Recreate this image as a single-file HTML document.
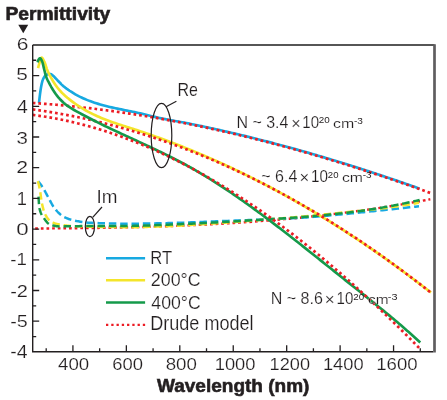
<!DOCTYPE html>
<html><head><meta charset="utf-8"><style>
html,body{margin:0;padding:0;background:#fff;width:447px;height:400px;overflow:hidden}
svg{display:block;will-change:transform}
text{font-family:"Liberation Sans",sans-serif}
</style></head><body>
<svg width="447" height="400" viewBox="0 0 447 400">
<rect width="447" height="400" fill="#fff"/>
<path d="M32.70,228.51 L37.73,228.49 L42.77,228.47 L47.80,228.44 L52.83,228.41 L57.86,228.37 L62.90,228.33 L67.93,228.29 L72.96,228.24 L78.00,228.19 L83.03,228.13 L88.06,228.07 L93.09,228.00 L98.13,227.93 L103.16,227.84 L108.19,227.76 L113.23,227.67 L118.26,227.57 L123.29,227.46 L128.33,227.35 L133.36,227.23 L138.39,227.10 L143.42,226.97 L148.46,226.82 L153.49,226.67 L158.52,226.51 L163.56,226.34 L168.59,226.17 L173.62,225.98 L178.65,225.78 L183.69,225.58 L188.72,225.37 L193.75,225.14 L198.79,224.91 L203.82,224.66 L208.85,224.41 L213.88,224.14 L218.92,223.86 L223.95,223.58 L228.98,223.28 L234.02,222.96 L239.05,222.64 L244.08,222.30 L249.12,221.96 L254.15,221.60 L259.18,221.22 L264.21,220.84 L269.25,220.44 L274.28,220.02 L279.31,219.60 L284.35,219.15 L289.38,218.70 L294.41,218.23 L299.44,217.75 L304.48,217.25 L309.51,216.73 L314.54,216.20 L319.58,215.66 L324.61,215.10 L329.64,214.52 L334.67,213.93 L339.71,213.32 L344.74,212.69 L349.77,212.05 L354.81,211.39 L359.84,210.71 L364.87,210.02 L369.91,209.31 L374.94,208.58 L379.97,207.83 L385.00,207.06 L390.04,206.28 L395.07,205.47 L400.10,204.65 L405.14,203.80 L410.17,202.94 L415.20,202.06 L420.23,201.16 L425.27,200.23 L430.30,199.29" fill="none" stroke="#ec1c24" stroke-width="2.4" stroke-dasharray="2.7 2.94" stroke-dashoffset="-2.5"/>
<path d="M419.00,206.25 L417.09,206.46 L415.17,206.67 L413.26,206.88 L411.35,207.08 L409.43,207.29 L407.52,207.50 L405.61,207.70 L403.69,207.91 L401.78,208.12 L399.86,208.32 L397.95,208.52 L396.04,208.73 L394.12,208.93 L392.21,209.14 L390.30,209.34 L388.38,209.54 L386.47,209.74 L384.56,209.94 L382.64,210.14 L380.73,210.34 L378.82,210.55 L376.90,210.75 L374.99,210.95 L373.07,211.16 L371.16,211.36 L369.25,211.56 L367.33,211.76 L365.42,211.97 L363.51,212.17 L361.59,212.37 L359.68,212.57 L357.77,212.76 L355.85,212.96 L353.94,213.15 L352.03,213.35 L350.11,213.54 L348.20,213.72 L346.28,213.91 L344.37,214.09 L342.46,214.27 L340.54,214.45 L338.63,214.63 L336.72,214.80 L334.80,214.98 L332.89,215.15 L330.98,215.33 L329.06,215.51 L327.15,215.68 L325.24,215.85 L323.32,216.02 L321.41,216.19 L319.49,216.36 L317.58,216.52 L315.67,216.68 L313.75,216.84 L311.84,216.99 L309.93,217.13 L308.01,217.27 L306.10,217.41 L304.19,217.54 L302.27,217.66 L300.36,217.78 L298.45,217.89 L296.53,218.00 L294.62,218.10 L292.70,218.20 L290.79,218.29 L288.88,218.38 L286.96,218.47 L285.05,218.56 L283.14,218.64 L281.22,218.73 L279.31,218.81 L277.40,218.89 L275.48,218.97 L273.57,219.05 L271.66,219.12 L269.74,219.20 L267.83,219.28 L265.91,219.36 L264.00,219.43 L262.09,219.51 L260.17,219.59 L258.26,219.67 L256.35,219.75 L254.43,219.83 L252.52,219.91 L250.61,219.99 L248.69,220.07 L246.78,220.15 L244.87,220.23 L242.95,220.31 L241.04,220.38 L239.12,220.46 L237.21,220.54 L235.30,220.61 L233.38,220.69 L231.47,220.76 L229.56,220.84 L227.64,220.91 L225.73,220.98 L223.82,221.06 L221.90,221.13 L219.99,221.20 L218.08,221.27 L216.16,221.35 L214.25,221.42 L212.33,221.50 L210.42,221.57 L208.51,221.65 L206.59,221.73 L204.68,221.81 L202.77,221.88 L200.85,221.96 L198.94,222.04 L197.03,222.12 L195.11,222.19 L193.20,222.27 L191.29,222.34 L189.37,222.42 L187.46,222.49 L185.54,222.56 L183.63,222.63 L181.72,222.70 L179.80,222.77 L177.89,222.83 L175.98,222.89 L174.06,222.95 L172.15,223.01 L170.24,223.06 L168.32,223.11 L166.41,223.16 L164.50,223.21 L162.58,223.25 L160.67,223.29 L158.75,223.32 L156.84,223.36 L154.93,223.39 L153.01,223.43 L151.10,223.47 L149.19,223.50 L147.27,223.53 L145.36,223.56 L143.45,223.59 L141.53,223.62 L139.62,223.64 L137.71,223.66 L135.79,223.68 L133.88,223.69 L131.96,223.70 L130.05,223.70 L128.14,223.70 L126.22,223.69 L124.31,223.68 L122.40,223.66 L120.48,223.64 L118.57,223.62 L116.66,223.59 L114.74,223.56 L112.83,223.52 L110.92,223.48 L109.00,223.43 L107.09,223.39 L105.17,223.33 L103.26,223.28 L101.35,223.21 L99.43,223.15 L97.52,223.08 L95.61,223.01 L93.69,222.93 L91.78,222.85 L89.87,222.77 L87.95,222.64 L86.04,222.46 L84.13,222.23 L82.21,221.97 L80.30,221.67 L78.38,221.35 L76.47,221.01 L74.56,220.61 L72.64,220.14 L70.73,219.59 L68.82,218.96 L68.20,218.74 L67.95,218.65 L67.70,218.55 L67.44,218.46 L67.19,218.36 L66.94,218.26 L66.90,218.24 L66.69,218.16 L66.44,218.05 L66.18,217.95 L65.93,217.84 L65.68,217.73 L65.43,217.62 L65.17,217.51 L64.99,217.43 L64.92,217.40 L64.67,217.28 L64.42,217.16 L64.17,217.04 L63.91,216.91 L63.66,216.77 L63.41,216.63 L63.16,216.48 L63.08,216.43 L62.91,216.32 L62.65,216.16 L62.40,215.99 L62.15,215.81 L61.90,215.63 L61.65,215.45 L61.39,215.26 L61.16,215.08 L61.14,215.06 L60.89,214.86 L60.64,214.65 L60.38,214.43 L60.13,214.22 L59.88,213.99 L59.63,213.76 L59.38,213.53 L59.25,213.41 L59.12,213.29 L58.87,213.05 L58.62,212.80 L58.37,212.55 L58.12,212.30 L57.86,212.04 L57.61,211.77 L57.36,211.51 L57.34,211.48 L57.11,211.24 L56.86,210.96 L56.60,210.68 L56.35,210.40 L56.10,210.12 L55.85,209.83 L55.59,209.54 L55.42,209.34 L55.34,209.24 L55.09,208.95 L54.84,208.65 L54.59,208.34 L54.33,208.01 L54.08,207.67 L53.83,207.30 L53.58,206.93 L53.51,206.82 L53.33,206.53 L53.07,206.13 L52.82,205.71 L52.57,205.28 L52.32,204.84 L52.07,204.39 L51.81,203.94 L51.59,203.54 L51.56,203.48 L51.31,203.01 L51.06,202.54 L50.81,202.06 L50.55,201.58 L50.30,201.10 L50.05,200.63 L49.80,200.15 L49.68,199.93 L49.54,199.67 L49.29,199.20 L49.04,198.73 L48.79,198.27 L48.54,197.82 L48.28,197.37 L48.03,196.92 L47.78,196.47 L47.77,196.45 L47.53,196.01 L47.28,195.55 L47.02,195.08 L46.77,194.61 L46.52,194.13 L46.27,193.66 L46.02,193.18 L45.85,192.88 L45.76,192.71 L45.51,192.24 L45.26,191.77 L45.01,191.30 L44.75,190.84 L44.50,190.38 L44.25,189.93 L44.00,189.49 L43.94,189.39 L43.75,189.05 L43.49,188.63 L43.24,188.21 L42.99,187.80 L42.74,187.41 L42.49,187.03 L42.23,186.65 L42.03,186.35 L41.98,186.28 L41.73,185.92 L41.48,185.56 L41.23,185.20 L40.97,184.85 L40.72,184.51 L40.47,184.17 L40.22,183.84 L40.11,183.71 L39.96,183.52 L39.71,183.20 L39.46,182.88 L39.21,182.57 L38.96,182.27 L38.70,181.97 L38.45,181.68 L38.20,181.40" fill="none" stroke="#17a9e1" stroke-width="2.5" stroke-dasharray="7.5 3.83" stroke-dashoffset="2.57"/>
<path d="M419.00,202.75 L417.08,203.09 L415.17,203.43 L413.25,203.76 L411.34,204.09 L409.42,204.41 L407.50,204.73 L405.59,205.05 L403.67,205.36 L401.76,205.66 L399.84,205.96 L397.92,206.26 L396.01,206.55 L394.09,206.83 L392.17,207.10 L390.26,207.37 L388.34,207.63 L386.43,207.89 L384.51,208.14 L382.59,208.38 L380.68,208.61 L378.76,208.84 L376.85,209.06 L374.93,209.27 L373.01,209.49 L371.10,209.69 L369.18,209.90 L367.27,210.10 L365.35,210.29 L363.43,210.49 L361.52,210.68 L359.60,210.87 L357.69,211.06 L355.77,211.24 L353.85,211.43 L351.94,211.62 L350.02,211.80 L348.11,211.99 L346.19,212.18 L344.27,212.37 L342.36,212.56 L340.44,212.76 L338.52,212.95 L336.61,213.15 L334.69,213.35 L332.78,213.54 L330.86,213.74 L328.94,213.94 L327.03,214.14 L325.11,214.34 L323.20,214.54 L321.28,214.74 L319.36,214.93 L317.45,215.13 L315.53,215.32 L313.62,215.51 L311.70,215.70 L309.78,215.89 L307.87,216.07 L305.95,216.25 L304.04,216.43 L302.12,216.61 L300.20,216.78 L298.29,216.95 L296.37,217.12 L294.45,217.28 L292.54,217.44 L290.62,217.60 L288.71,217.76 L286.79,217.92 L284.87,218.07 L282.96,218.22 L281.04,218.38 L279.13,218.53 L277.21,218.68 L275.29,218.82 L273.38,218.97 L271.46,219.12 L269.55,219.27 L267.63,219.41 L265.71,219.56 L263.80,219.71 L261.88,219.85 L259.97,220.00 L258.05,220.15 L256.13,220.30 L254.22,220.45 L252.30,220.60 L250.38,220.75 L248.47,220.90 L246.55,221.05 L244.64,221.20 L242.72,221.35 L240.80,221.49 L238.89,221.64 L236.97,221.79 L235.06,221.93 L233.14,222.07 L231.22,222.21 L229.31,222.35 L227.39,222.49 L225.48,222.63 L223.56,222.76 L221.64,222.89 L219.73,223.02 L217.81,223.15 L215.90,223.27 L213.98,223.40 L212.06,223.53 L210.15,223.66 L208.23,223.80 L206.32,223.93 L204.40,224.06 L202.48,224.19 L200.57,224.32 L198.65,224.44 L196.73,224.57 L194.82,224.70 L192.90,224.82 L190.99,224.95 L189.07,225.07 L187.15,225.18 L185.24,225.30 L183.32,225.41 L181.41,225.52 L179.49,225.63 L177.57,225.74 L175.66,225.84 L173.74,225.93 L171.83,226.03 L169.91,226.12 L167.99,226.20 L166.08,226.28 L164.16,226.35 L162.25,226.42 L160.33,226.49 L158.41,226.55 L156.50,226.61 L154.58,226.68 L152.66,226.74 L150.75,226.80 L148.83,226.86 L146.92,226.92 L145.00,226.97 L143.08,227.02 L141.17,227.06 L139.25,227.10 L137.34,227.14 L135.42,227.17 L133.50,227.19 L131.59,227.20 L129.67,227.20 L127.76,227.20 L125.84,227.19 L123.92,227.19 L122.01,227.18 L120.09,227.17 L118.18,227.15 L116.26,227.14 L114.34,227.12 L112.43,227.10 L110.51,227.08 L108.59,227.05 L106.68,227.02 L104.76,226.99 L102.85,226.96 L100.93,226.92 L99.01,226.89 L97.10,226.85 L95.18,226.80 L93.27,226.76 L91.35,226.71 L89.43,226.66 L87.52,226.60 L85.60,226.55 L83.69,226.49 L81.77,226.43 L79.85,226.37 L77.94,226.30 L76.02,226.23 L74.11,226.16 L72.19,226.08 L70.27,225.97 L68.36,225.79 L67.70,225.72 L67.45,225.70 L67.20,225.67 L66.94,225.64 L66.69,225.61 L66.44,225.58 L66.44,225.58 L66.19,225.54 L65.94,225.51 L65.68,225.48 L65.43,225.44 L65.18,225.41 L64.93,225.37 L64.67,225.34 L64.53,225.32 L64.42,225.30 L64.17,225.26 L63.92,225.23 L63.67,225.19 L63.41,225.15 L63.16,225.11 L62.91,225.07 L62.66,225.03 L62.61,225.02 L62.41,224.99 L62.15,224.95 L61.90,224.90 L61.65,224.86 L61.40,224.82 L61.15,224.77 L60.89,224.73 L60.69,224.70 L60.64,224.69 L60.39,224.64 L60.14,224.60 L59.88,224.55 L59.63,224.51 L59.38,224.46 L59.13,224.41 L58.88,224.36 L58.78,224.34 L58.62,224.31 L58.37,224.26 L58.12,224.21 L57.87,224.16 L57.62,224.10 L57.36,224.05 L57.11,223.99 L56.86,223.93 L56.86,223.93 L56.61,223.86 L56.36,223.80 L56.10,223.73 L55.85,223.66 L55.60,223.59 L55.35,223.52 L55.09,223.44 L54.94,223.39 L54.84,223.36 L54.59,223.28 L54.34,223.19 L54.09,223.11 L53.83,223.01 L53.58,222.92 L53.33,222.82 L53.08,222.72 L53.03,222.70 L52.83,222.62 L52.57,222.51 L52.32,222.39 L52.07,222.28 L51.82,222.16 L51.57,222.03 L51.31,221.90 L51.11,221.79 L51.06,221.75 L50.81,221.59 L50.56,221.42 L50.31,221.22 L50.05,221.02 L49.80,220.80 L49.55,220.56 L49.30,220.31 L49.20,220.21 L49.04,220.05 L48.79,219.77 L48.54,219.47 L48.29,219.16 L48.04,218.84 L47.78,218.51 L47.53,218.16 L47.28,217.79 L47.28,217.79 L47.03,217.42 L46.78,217.03 L46.52,216.62 L46.27,216.20 L46.02,215.77 L45.77,215.33 L45.52,214.87 L45.36,214.59 L45.26,214.40 L45.01,213.92 L44.76,213.40 L44.51,212.81 L44.25,212.15 L44.00,211.43 L43.75,210.65 L43.50,209.80 L43.45,209.63 L43.25,208.90 L42.99,207.95 L42.74,206.94 L42.49,205.88 L42.24,204.77 L41.99,203.62 L41.73,202.42 L41.53,201.30 L41.48,200.98 L41.23,199.25 L40.98,197.33 L40.73,195.37 L40.47,193.48 L40.22,191.80 L39.97,190.39 L39.72,189.06 L39.62,188.54 L39.46,187.77 L39.21,186.53 L38.96,185.36 L38.71,184.24 L38.46,183.20 L38.20,182.24 L37.95,181.37 L37.70,180.60" fill="none" stroke="#f4e52b" stroke-width="2.5" stroke-dasharray="7.5 3.83" stroke-dashoffset="2.03"/>
<path d="M419.60,200.00 L417.68,200.44 L415.77,200.88 L413.85,201.31 L411.94,201.74 L410.02,202.16 L408.11,202.57 L406.19,202.98 L404.28,203.39 L402.36,203.79 L400.45,204.18 L398.53,204.57 L396.62,204.94 L394.70,205.32 L392.79,205.68 L390.87,206.04 L388.96,206.39 L387.04,206.73 L385.13,207.06 L383.21,207.38 L381.30,207.70 L379.38,208.02 L377.47,208.33 L375.55,208.64 L373.64,208.94 L371.72,209.24 L369.81,209.53 L367.89,209.82 L365.98,210.11 L364.06,210.39 L362.15,210.67 L360.23,210.94 L358.32,211.21 L356.40,211.47 L354.49,211.72 L352.57,211.98 L350.66,212.22 L348.74,212.47 L346.83,212.70 L344.91,212.93 L343.00,213.16 L341.08,213.38 L339.17,213.59 L337.25,213.80 L335.34,214.01 L333.42,214.21 L331.51,214.41 L329.59,214.60 L327.68,214.80 L325.76,214.98 L323.85,215.17 L321.93,215.35 L320.02,215.53 L318.10,215.70 L316.19,215.87 L314.27,216.04 L312.36,216.20 L310.44,216.36 L308.53,216.52 L306.61,216.68 L304.70,216.83 L302.78,216.99 L300.87,217.13 L298.95,217.28 L297.04,217.42 L295.12,217.56 L293.21,217.70 L291.29,217.83 L289.37,217.96 L287.46,218.09 L285.54,218.22 L283.63,218.34 L281.71,218.46 L279.80,218.58 L277.88,218.70 L275.97,218.82 L274.05,218.94 L272.14,219.06 L270.22,219.17 L268.31,219.29 L266.39,219.41 L264.48,219.52 L262.56,219.64 L260.65,219.76 L258.73,219.88 L256.82,220.00 L254.90,220.12 L252.99,220.24 L251.07,220.36 L249.16,220.48 L247.24,220.60 L245.33,220.72 L243.41,220.84 L241.50,220.96 L239.58,221.07 L237.67,221.19 L235.75,221.30 L233.84,221.42 L231.92,221.53 L230.01,221.64 L228.09,221.75 L226.18,221.86 L224.26,221.97 L222.35,222.07 L220.43,222.18 L218.52,222.28 L216.60,222.38 L214.69,222.48 L212.77,222.58 L210.86,222.68 L208.94,222.78 L207.03,222.88 L205.11,222.98 L203.20,223.08 L201.28,223.17 L199.37,223.27 L197.45,223.37 L195.54,223.46 L193.62,223.55 L191.71,223.65 L189.79,223.74 L187.88,223.83 L185.96,223.92 L184.05,224.01 L182.13,224.10 L180.22,224.18 L178.30,224.27 L176.39,224.35 L174.47,224.43 L172.56,224.51 L170.64,224.59 L168.73,224.67 L166.81,224.75 L164.89,224.82 L162.98,224.89 L161.06,224.96 L159.15,225.03 L157.23,225.10 L155.32,225.17 L153.40,225.25 L151.49,225.32 L149.57,225.40 L147.66,225.47 L145.74,225.54 L143.83,225.61 L141.91,225.67 L140.00,225.72 L138.08,225.78 L136.17,225.82 L134.25,225.85 L132.34,225.88 L130.42,225.90 L128.51,225.91 L126.59,225.91 L124.68,225.92 L122.76,225.93 L120.85,225.93 L118.93,225.94 L117.02,225.94 L115.10,225.94 L113.19,225.95 L111.27,225.95 L109.36,225.95 L107.44,225.96 L105.53,225.96 L103.61,225.96 L101.70,225.97 L99.78,225.97 L97.87,225.97 L95.95,225.98 L94.04,225.98 L92.12,225.99 L90.21,226.00 L88.29,226.01 L86.38,226.03 L84.46,226.05 L82.55,226.08 L80.63,226.11 L78.72,226.14 L76.80,226.18 L74.89,226.21 L72.97,226.25 L71.06,226.28 L69.14,226.32 L68.50,226.33 L68.25,226.33 L68.00,226.33 L67.74,226.34 L67.49,226.34 L67.24,226.34 L67.23,226.34 L66.99,226.35 L66.74,226.35 L66.48,226.35 L66.23,226.36 L65.98,226.36 L65.73,226.36 L65.47,226.36 L65.31,226.37 L65.22,226.37 L64.97,226.37 L64.72,226.37 L64.47,226.38 L64.21,226.38 L63.96,226.38 L63.71,226.38 L63.46,226.38 L63.40,226.38 L63.21,226.39 L62.95,226.39 L62.70,226.39 L62.45,226.39 L62.20,226.39 L61.95,226.39 L61.69,226.40 L61.48,226.40 L61.44,226.40 L61.19,226.40 L60.94,226.40 L60.68,226.40 L60.43,226.40 L60.18,226.40 L59.93,226.40 L59.68,226.40 L59.57,226.40 L59.42,226.40 L59.17,226.40 L58.92,226.39 L58.67,226.38 L58.42,226.37 L58.16,226.35 L57.91,226.33 L57.66,226.31 L57.65,226.31 L57.41,226.29 L57.16,226.26 L56.90,226.23 L56.65,226.20 L56.40,226.16 L56.15,226.13 L55.89,226.09 L55.74,226.06 L55.64,226.04 L55.39,226.00 L55.14,225.95 L54.89,225.90 L54.63,225.85 L54.38,225.80 L54.13,225.74 L53.88,225.68 L53.82,225.67 L53.63,225.62 L53.37,225.56 L53.12,225.49 L52.87,225.43 L52.62,225.36 L52.37,225.29 L52.11,225.21 L51.91,225.15 L51.86,225.14 L51.61,225.06 L51.36,224.98 L51.11,224.90 L50.85,224.82 L50.60,224.74 L50.35,224.65 L50.10,224.57 L49.99,224.53 L49.84,224.48 L49.59,224.38 L49.34,224.25 L49.09,224.11 L48.84,223.95 L48.58,223.76 L48.33,223.57 L48.08,223.35 L48.08,223.35 L47.83,223.12 L47.58,222.87 L47.32,222.61 L47.07,222.33 L46.82,222.04 L46.57,221.74 L46.32,221.43 L46.16,221.23 L46.06,221.10 L45.81,220.77 L45.56,220.43 L45.31,220.07 L45.05,219.71 L44.80,219.34 L44.55,218.97 L44.30,218.59 L44.25,218.51 L44.05,218.21 L43.79,217.82 L43.54,217.42 L43.29,217.03 L43.04,216.65 L42.79,216.29 L42.53,215.93 L42.33,215.63 L42.28,215.56 L42.03,215.18 L41.78,214.77 L41.53,214.33 L41.27,213.84 L41.02,213.30 L40.77,212.69 L40.52,212.01 L40.42,211.71 L40.26,211.25 L40.01,210.40 L39.76,209.44 L39.51,208.37 L39.26,207.15 L39.00,204.42 L38.75,200.33 L38.50,196.00" fill="none" stroke="#149a4a" stroke-width="2.5" stroke-dasharray="7.5 3.83" stroke-dashoffset="1.06"/>
<path d="M39.00,103.00 L39.25,100.60 L39.50,98.32 L39.76,96.16 L40.01,94.14 L40.26,92.28 L40.51,90.54 L40.76,88.89 L40.91,87.97 L41.02,87.35 L41.27,85.93 L41.52,84.66 L41.77,83.53 L42.03,82.47 L42.28,81.50 L42.53,80.63 L42.78,79.89 L42.83,79.78 L43.03,79.30 L43.29,78.75 L43.54,78.23 L43.79,77.75 L44.04,77.31 L44.29,76.90 L44.55,76.54 L44.74,76.28 L44.80,76.21 L45.05,75.92 L45.30,75.68 L45.55,75.48 L45.81,75.28 L46.06,75.10 L46.31,74.93 L46.56,74.77 L46.65,74.72 L46.82,74.63 L47.07,74.50 L47.32,74.39 L47.57,74.30 L47.82,74.23 L48.08,74.19 L48.33,74.15 L48.56,74.12 L48.58,74.11 L48.83,74.08 L49.08,74.06 L49.34,74.03 L49.59,74.01 L49.84,74.00 L50.09,74.00 L50.34,74.02 L50.48,74.05 L50.60,74.08 L50.85,74.17 L51.10,74.29 L51.35,74.43 L51.61,74.59 L51.86,74.76 L52.11,74.93 L52.36,75.11 L52.39,75.13 L52.61,75.28 L52.87,75.47 L53.12,75.69 L53.37,75.92 L53.62,76.17 L53.87,76.43 L54.13,76.70 L54.30,76.88 L54.38,76.96 L54.63,77.23 L54.88,77.48 L55.13,77.74 L55.39,78.01 L55.64,78.28 L55.89,78.56 L56.14,78.83 L56.21,78.91 L56.39,79.11 L56.65,79.39 L56.90,79.66 L57.15,79.93 L57.40,80.20 L57.66,80.46 L57.91,80.72 L58.13,80.94 L58.16,80.97 L58.41,81.22 L58.66,81.47 L58.92,81.72 L59.17,81.97 L59.42,82.21 L59.67,82.47 L59.92,82.72 L60.04,82.84 L60.18,82.98 L60.43,83.25 L60.68,83.52 L60.93,83.79 L61.18,84.07 L61.44,84.34 L61.69,84.60 L61.94,84.84 L61.95,84.85 L62.19,85.08 L62.45,85.31 L62.70,85.54 L62.95,85.76 L63.20,85.98 L63.45,86.19 L63.71,86.40 L63.86,86.53 L63.96,86.61 L64.21,86.81 L64.46,87.01 L64.71,87.21 L64.97,87.41 L65.22,87.60 L65.47,87.80 L65.72,87.99 L65.78,88.03 L65.97,88.18 L66.23,88.37 L66.48,88.56 L66.73,88.74 L66.98,88.93 L67.24,89.11 L67.49,89.29 L67.69,89.43 L67.74,89.47 L67.99,89.64 L68.24,89.82 L68.50,89.99 L68.75,90.16 L69.00,90.33 L69.60,90.74 L71.51,91.98 L73.43,93.17 L75.34,94.30 L77.25,95.37 L79.16,96.38 L81.08,97.32 L82.99,98.20 L84.90,99.05 L86.81,99.85 L88.73,100.62 L90.64,101.34 L92.55,102.02 L94.46,102.68 L96.38,103.30 L98.29,103.89 L100.20,104.46 L102.11,105.00 L104.03,105.51 L105.94,106.01 L107.85,106.48 L109.76,106.94 L111.68,107.39 L113.59,107.81 L115.50,108.23 L117.42,108.63 L119.33,109.03 L121.24,109.42 L123.15,109.82 L125.07,110.21 L126.98,110.61 L128.89,111.00 L130.80,111.39 L132.72,111.77 L134.63,112.16 L136.54,112.56 L138.45,112.96 L140.37,113.38 L142.28,113.82 L144.19,114.27 L146.10,114.74 L148.02,115.22 L149.93,115.70 L151.84,116.18 L153.75,116.65 L155.67,117.11 L157.58,117.56 L159.49,117.99 L161.40,118.39 L163.32,118.78 L165.23,119.16 L167.14,119.53 L169.05,119.89 L170.97,120.24 L172.88,120.59 L174.79,120.94 L176.70,121.28 L178.62,121.62 L180.53,121.97 L182.44,122.32 L184.35,122.67 L186.27,123.04 L188.18,123.41 L190.09,123.79 L192.01,124.18 L193.92,124.57 L195.83,124.96 L197.74,125.36 L199.66,125.76 L201.57,126.16 L203.48,126.57 L205.39,126.97 L207.31,127.38 L209.22,127.80 L211.13,128.21 L213.04,128.63 L214.96,129.05 L216.87,129.47 L218.78,129.90 L220.69,130.33 L222.61,130.76 L224.52,131.19 L226.43,131.63 L228.34,132.07 L230.26,132.51 L232.17,132.95 L234.08,133.39 L235.99,133.84 L237.91,134.29 L239.82,134.75 L241.73,135.20 L243.64,135.66 L245.56,136.12 L247.47,136.59 L249.38,137.05 L251.29,137.53 L253.21,138.00 L255.12,138.48 L257.03,138.96 L258.94,139.44 L260.86,139.93 L262.77,140.42 L264.68,140.91 L266.59,141.40 L268.51,141.90 L270.42,142.40 L272.33,142.90 L274.25,143.41 L276.16,143.91 L278.07,144.42 L279.98,144.93 L281.90,145.45 L283.81,145.96 L285.72,146.48 L287.63,147.00 L289.55,147.52 L291.46,148.04 L293.37,148.57 L295.28,149.10 L297.20,149.63 L299.11,150.17 L301.02,150.70 L302.93,151.25 L304.85,151.79 L306.76,152.34 L308.67,152.88 L310.58,153.44 L312.50,153.99 L314.41,154.55 L316.32,155.11 L318.23,155.67 L320.15,156.23 L322.06,156.80 L323.97,157.37 L325.88,157.94 L327.80,158.51 L329.71,159.09 L331.62,159.66 L333.53,160.24 L335.45,160.82 L337.36,161.41 L339.27,161.99 L341.18,162.58 L343.10,163.17 L345.01,163.76 L346.92,164.35 L348.84,164.95 L350.75,165.55 L352.66,166.16 L354.57,166.76 L356.49,167.37 L358.40,167.98 L360.31,168.60 L362.22,169.21 L364.14,169.83 L366.05,170.45 L367.96,171.07 L369.87,171.70 L371.79,172.32 L373.70,172.95 L375.61,173.58 L377.52,174.21 L379.44,174.85 L381.35,175.48 L383.26,176.12 L385.17,176.76 L387.09,177.40 L389.00,178.04 L390.91,178.68 L392.82,179.32 L394.74,179.97 L396.65,180.62 L398.56,181.28 L400.47,181.94 L402.39,182.60 L404.30,183.26 L406.21,183.92 L408.12,184.59 L410.04,185.26 L411.95,185.93 L413.86,186.61 L415.77,187.28 L417.69,187.96 L419.60,188.64" fill="none" stroke="#17a9e1" stroke-width="2.65" />
<path d="M32.70,102.98 L36.04,103.21 L39.38,103.44 L42.72,103.69 L46.06,103.94 L49.41,104.21 L52.75,104.48 L56.09,104.77 L59.43,105.07 L62.77,105.37 L66.11,105.69 L69.45,106.02 L72.79,106.35 L76.14,106.70 L79.48,107.06 L82.82,107.42 L86.16,107.80 L89.50,108.19 L92.84,108.58 L96.18,108.99 L99.52,109.41 L102.86,109.83 L106.21,110.27 L109.55,110.71 L112.89,111.17 L116.23,111.63 L119.57,112.11 L122.91,112.59 L126.25,113.09 L129.59,113.59 L132.94,114.10 L136.28,114.62 L139.62,115.15 L142.96,115.69 L146.30,116.24 L149.64,116.80 L152.98,117.37 L156.32,117.95 L159.66,118.54 L163.01,119.13 L166.35,119.74 L169.69,120.35 L173.03,120.97 L176.37,121.60 L179.71,122.24 L183.05,122.89 L186.39,123.55 L189.74,124.22 L193.08,124.89 L196.42,125.58 L199.76,126.27 L203.10,126.97 L206.44,127.68 L209.78,128.40 L213.12,129.13 L216.46,129.87 L219.81,130.61 L223.15,131.36 L226.49,132.12 L229.83,132.89 L233.17,133.67 L236.51,134.46 L239.85,135.25 L243.19,136.06 L246.54,136.87 L249.88,137.69 L253.22,138.51 L256.56,139.35 L259.90,140.19 L263.24,141.04 L266.58,141.90 L269.92,142.77 L273.26,143.64 L276.61,144.53 L279.95,145.42 L283.29,146.32 L286.63,147.22 L289.97,148.14 L293.31,149.06 L296.65,149.99 L299.99,150.92 L303.34,151.87 L306.68,152.82 L310.02,153.78 L313.36,154.74 L316.70,155.72 L320.04,156.70 L323.38,157.69 L326.72,158.68 L330.06,159.69 L333.41,160.70 L336.75,161.72 L340.09,162.74 L343.43,163.77 L346.77,164.81 L350.11,165.86 L353.45,166.91 L356.79,167.97 L360.14,169.04 L363.48,170.11 L366.82,171.19 L370.16,172.28 L373.50,173.37 L376.84,174.47 L380.18,175.58 L383.52,176.69 L386.86,177.81 L390.21,178.94 L393.55,180.08 L396.89,181.22 L400.23,182.36 L403.57,183.52 L406.91,184.68 L410.25,185.84 L413.59,187.02 L416.94,188.19 L420.28,189.38 L423.62,190.57 L426.96,191.77 L430.30,192.97" fill="none" stroke="#ec1c24" stroke-width="2.7" stroke-dasharray="2.7 2.94"/>
<path d="M38.10,68.10 L38.35,67.05 L38.60,66.03 L38.86,65.06 L39.11,64.13 L39.36,63.27 L39.61,62.46 L39.86,61.64 L40.07,60.92 L40.12,60.77 L40.37,59.90 L40.62,59.10 L40.87,58.42 L41.13,57.91 L41.38,57.64 L41.63,57.61 L41.88,57.71 L42.05,57.83 L42.13,57.90 L42.39,58.16 L42.64,58.49 L42.89,58.88 L43.14,59.31 L43.39,59.78 L43.65,60.27 L43.90,60.78 L44.02,61.04 L44.15,61.30 L44.40,61.81 L44.65,62.33 L44.91,62.95 L45.16,63.65 L45.41,64.42 L45.66,65.23 L45.92,66.07 L46.00,66.34 L46.17,66.90 L46.42,67.72 L46.67,68.50 L46.92,69.21 L47.18,69.85 L47.43,70.45 L47.68,71.03 L47.93,71.60 L47.97,71.68 L48.18,72.15 L48.44,72.68 L48.69,73.21 L48.94,73.72 L49.19,74.22 L49.44,74.71 L49.70,75.19 L49.95,75.66 L49.95,75.67 L50.20,76.14 L50.45,76.60 L50.71,77.06 L50.96,77.52 L51.21,77.98 L51.46,78.43 L51.71,78.87 L51.92,79.24 L51.97,79.31 L52.22,79.75 L52.47,80.18 L52.72,80.60 L52.97,81.02 L53.23,81.43 L53.48,81.84 L53.73,82.24 L53.89,82.50 L53.98,82.64 L54.23,83.03 L54.49,83.42 L54.74,83.79 L54.99,84.17 L55.24,84.54 L55.49,84.90 L55.75,85.26 L55.87,85.43 L56.00,85.61 L56.25,85.96 L56.50,86.31 L56.76,86.65 L57.01,86.98 L57.26,87.32 L57.51,87.64 L57.76,87.97 L57.84,88.07 L58.02,88.28 L58.27,88.60 L58.52,88.91 L58.77,89.22 L59.02,89.52 L59.28,89.82 L59.53,90.11 L59.78,90.40 L59.82,90.44 L60.03,90.69 L60.28,90.97 L60.54,91.25 L60.79,91.52 L61.04,91.79 L61.29,92.06 L61.55,92.33 L61.79,92.59 L61.80,92.59 L62.05,92.85 L62.30,93.11 L62.55,93.36 L62.81,93.61 L63.06,93.86 L63.31,94.11 L63.56,94.35 L63.77,94.55 L63.81,94.59 L64.07,94.83 L64.32,95.06 L64.57,95.30 L64.82,95.52 L65.07,95.75 L65.33,95.98 L65.58,96.20 L65.74,96.34 L65.83,96.42 L66.08,96.64 L66.34,96.86 L66.59,97.07 L66.84,97.29 L67.09,97.50 L67.34,97.72 L67.60,97.93 L67.72,98.03 L67.85,98.14 L68.10,98.34 L69.69,99.62 L71.66,101.14 L73.64,102.61 L75.61,104.01 L77.59,105.36 L79.56,106.66 L81.54,107.90 L83.51,109.09 L85.48,110.23 L87.46,111.33 L89.43,112.39 L91.41,113.40 L93.38,114.37 L95.36,115.31 L97.33,116.21 L99.31,117.07 L101.28,117.91 L103.25,118.72 L105.23,119.50 L107.20,120.25 L109.18,120.99 L111.15,121.70 L113.13,122.40 L115.10,123.08 L117.07,123.74 L119.05,124.40 L121.02,125.04 L123.00,125.68 L124.97,126.32 L126.95,126.95 L128.92,127.57 L130.90,128.20 L132.87,128.84 L134.84,129.48 L136.82,130.12 L138.79,130.77 L140.77,131.43 L142.74,132.09 L144.72,132.76 L146.69,133.44 L148.66,134.12 L150.64,134.80 L152.61,135.49 L154.59,136.19 L156.56,136.90 L158.54,137.61 L160.51,138.32 L162.49,139.04 L164.46,139.77 L166.43,140.50 L168.41,141.24 L170.38,141.98 L172.36,142.73 L174.33,143.49 L176.31,144.25 L178.28,145.02 L180.25,145.79 L182.23,146.57 L184.20,147.36 L186.18,148.15 L188.15,148.95 L190.13,149.75 L192.10,150.56 L194.08,151.37 L196.05,152.19 L198.02,153.02 L200.00,153.85 L201.97,154.69 L203.95,155.54 L205.92,156.39 L207.90,157.24 L209.87,158.10 L211.84,158.97 L213.82,159.84 L215.79,160.72 L217.77,161.61 L219.74,162.50 L221.72,163.40 L223.69,164.30 L225.67,165.21 L227.64,166.13 L229.61,167.05 L231.59,167.97 L233.56,168.91 L235.54,169.85 L237.51,170.79 L239.49,171.74 L241.46,172.70 L243.43,173.66 L245.41,174.63 L247.38,175.60 L249.36,176.58 L251.33,177.57 L253.31,178.56 L255.28,179.56 L257.26,180.57 L259.23,181.58 L261.20,182.59 L263.18,183.61 L265.15,184.64 L267.13,185.68 L269.10,186.72 L271.08,187.76 L273.05,188.81 L275.02,189.87 L277.00,190.94 L278.97,192.01 L280.95,193.08 L282.92,194.16 L284.90,195.25 L286.87,196.35 L288.85,197.45 L290.82,198.55 L292.79,199.66 L294.77,200.78 L296.74,201.91 L298.72,203.04 L300.69,204.17 L302.67,205.31 L304.64,206.46 L306.61,207.62 L308.59,208.78 L310.56,209.94 L312.54,211.11 L314.51,212.29 L316.49,213.48 L318.46,214.67 L320.44,215.86 L322.41,217.07 L324.38,218.27 L326.36,219.49 L328.33,220.71 L330.31,221.94 L332.28,223.17 L334.26,224.41 L336.23,225.65 L338.20,226.90 L340.18,228.16 L342.15,229.42 L344.13,230.69 L346.10,231.97 L348.08,233.25 L350.05,234.53 L352.03,235.83 L354.00,237.13 L355.97,238.43 L357.95,239.74 L359.92,241.06 L361.90,242.38 L363.87,243.71 L365.85,245.05 L367.82,246.39 L369.79,247.74 L371.77,249.09 L373.74,250.45 L375.72,251.82 L377.69,253.19 L379.67,254.57 L381.64,255.95 L383.62,257.35 L385.59,258.74 L387.56,260.15 L389.54,261.55 L391.51,262.97 L393.49,264.39 L395.46,265.82 L397.44,267.25 L399.41,268.69 L401.38,270.14 L403.36,271.59 L405.33,273.05 L407.31,274.51 L409.28,275.98 L411.26,277.46 L413.23,278.94 L415.21,280.43 L417.18,281.93 L419.15,283.43 L421.13,284.93 L423.10,286.45 L425.08,287.97 L427.05,289.49 L429.03,291.03 L431.00,292.56" fill="none" stroke="#f4e52b" stroke-width="2.65" />
<path d="M32.70,109.42 L36.05,109.88 L39.40,110.36 L42.75,110.86 L46.09,111.38 L49.44,111.91 L52.79,112.47 L56.14,113.04 L59.49,113.63 L62.84,114.24 L66.19,114.86 L69.54,115.51 L72.88,116.17 L76.23,116.85 L79.58,117.55 L82.93,118.26 L86.28,119.00 L89.63,119.75 L92.98,120.52 L96.33,121.31 L99.67,122.11 L103.02,122.94 L106.37,123.78 L109.72,124.64 L113.07,125.52 L116.42,126.42 L119.77,127.33 L123.12,128.27 L126.46,129.22 L129.81,130.19 L133.16,131.18 L136.51,132.18 L139.86,133.21 L143.21,134.25 L146.56,135.31 L149.91,136.39 L153.25,137.48 L156.60,138.60 L159.95,139.73 L163.30,140.88 L166.65,142.05 L170.00,143.24 L173.35,144.45 L176.70,145.67 L180.04,146.92 L183.39,148.18 L186.74,149.46 L190.09,150.76 L193.44,152.07 L196.79,153.41 L200.14,154.76 L203.49,156.13 L206.83,157.52 L210.18,158.93 L213.53,160.36 L216.88,161.80 L220.23,163.27 L223.58,164.75 L226.93,166.25 L230.28,167.77 L233.62,169.30 L236.97,170.86 L240.32,172.43 L243.67,174.03 L247.02,175.64 L250.37,177.27 L253.72,178.91 L257.07,180.58 L260.41,182.26 L263.76,183.97 L267.11,185.69 L270.46,187.43 L273.81,189.19 L277.16,190.97 L280.51,192.76 L283.86,194.58 L287.20,196.41 L290.55,198.26 L293.90,200.13 L297.25,202.02 L300.60,203.93 L303.95,205.85 L307.30,207.80 L310.65,209.76 L313.99,211.74 L317.34,213.75 L320.69,215.76 L324.04,217.80 L327.39,219.86 L330.74,221.93 L334.09,224.03 L337.44,226.14 L340.78,228.27 L344.13,230.42 L347.48,232.59 L350.83,234.78 L354.18,236.99 L357.53,239.21 L360.88,241.45 L364.23,243.72 L367.57,246.00 L370.92,248.30 L374.27,250.62 L377.62,252.96 L380.97,255.31 L384.32,257.69 L387.67,260.08 L391.02,262.49 L394.36,264.93 L397.71,267.38 L401.06,269.85 L404.41,272.33 L407.76,274.84 L411.11,277.37 L414.46,279.91 L417.81,282.48 L421.15,285.06 L424.50,287.66 L427.85,290.28 L431.20,292.92" fill="none" stroke="#ec1c24" stroke-width="2.7" stroke-dasharray="2.7 2.94"/>
<path d="M37.60,62.30 L37.85,61.46 L38.10,60.70 L38.36,60.06 L38.61,59.59 L38.86,59.21 L39.11,58.87 L39.36,58.57 L39.52,58.42 L39.62,58.34 L39.87,58.22 L40.12,58.22 L40.37,58.34 L40.63,58.58 L40.88,58.92 L41.13,59.34 L41.38,59.82 L41.45,59.96 L41.63,60.36 L41.89,60.92 L42.14,61.49 L42.39,62.10 L42.64,62.89 L42.89,63.83 L43.15,64.88 L43.37,65.86 L43.40,65.99 L43.65,67.12 L43.90,68.20 L44.15,69.21 L44.41,70.22 L44.66,71.26 L44.91,72.31 L45.16,73.33 L45.29,73.84 L45.42,74.31 L45.67,75.21 L45.92,76.02 L46.17,76.72 L46.42,77.39 L46.68,78.02 L46.93,78.62 L47.18,79.19 L47.21,79.27 L47.43,79.74 L47.68,80.27 L47.94,80.78 L48.19,81.28 L48.44,81.76 L48.69,82.23 L48.94,82.70 L49.14,83.06 L49.20,83.16 L49.45,83.63 L49.70,84.09 L49.95,84.56 L50.21,85.03 L50.46,85.50 L50.71,85.96 L50.96,86.42 L51.06,86.59 L51.21,86.87 L51.47,87.31 L51.72,87.75 L51.97,88.18 L52.22,88.61 L52.47,89.03 L52.73,89.45 L52.98,89.86 L52.98,89.87 L53.23,90.26 L53.48,90.66 L53.73,91.05 L53.99,91.44 L54.24,91.82 L54.49,92.19 L54.74,92.56 L54.91,92.80 L54.99,92.93 L55.25,93.29 L55.50,93.64 L55.75,94.00 L56.00,94.34 L56.26,94.68 L56.51,95.02 L56.76,95.35 L56.83,95.44 L57.01,95.68 L57.26,96.00 L57.52,96.32 L57.77,96.63 L58.02,96.94 L58.27,97.24 L58.52,97.54 L58.75,97.80 L58.78,97.83 L59.03,98.12 L59.28,98.41 L59.53,98.69 L59.78,98.97 L60.04,99.24 L60.29,99.52 L60.54,99.78 L60.67,99.92 L60.79,100.05 L61.05,100.31 L61.30,100.56 L61.55,100.81 L61.80,101.06 L62.05,101.30 L62.31,101.54 L62.56,101.78 L62.60,101.82 L62.81,102.01 L63.06,102.24 L63.31,102.47 L63.57,102.70 L63.82,102.92 L64.07,103.13 L64.32,103.35 L64.52,103.52 L64.57,103.56 L64.83,103.77 L65.08,103.98 L65.33,104.18 L65.58,104.38 L65.84,104.58 L66.09,104.78 L66.34,104.97 L66.44,105.05 L66.59,105.16 L66.84,105.35 L67.10,105.53 L67.35,105.72 L67.60,105.90 L68.37,106.43 L70.29,107.71 L72.21,108.89 L74.13,110.01 L76.06,111.09 L77.98,112.15 L79.90,113.20 L81.83,114.24 L83.75,115.26 L85.67,116.28 L87.59,117.29 L89.52,118.28 L91.44,119.27 L93.36,120.25 L95.29,121.21 L97.21,122.18 L99.13,123.13 L101.05,124.07 L102.98,125.01 L104.90,125.94 L106.82,126.87 L108.75,127.79 L110.67,128.70 L112.59,129.61 L114.51,130.52 L116.44,131.42 L118.36,132.32 L120.28,133.21 L122.21,134.10 L124.13,134.99 L126.05,135.88 L127.97,136.77 L129.90,137.65 L131.82,138.54 L133.74,139.42 L135.67,140.31 L137.59,141.19 L139.51,142.08 L141.43,142.97 L143.36,143.86 L145.28,144.75 L147.20,145.64 L149.13,146.54 L151.05,147.45 L152.97,148.35 L154.89,149.26 L156.82,150.18 L158.74,151.10 L160.66,152.03 L162.59,152.96 L164.51,153.90 L166.43,154.84 L168.35,155.80 L170.28,156.76 L172.20,157.73 L174.12,158.71 L176.05,159.70 L177.97,160.70 L179.89,161.71 L181.81,162.72 L183.74,163.75 L185.66,164.79 L187.58,165.85 L189.51,166.91 L191.43,167.99 L193.35,169.08 L195.27,170.18 L197.20,171.29 L199.12,172.42 L201.04,173.56 L202.97,174.71 L204.89,175.87 L206.81,177.04 L208.73,178.23 L210.66,179.42 L212.58,180.63 L214.50,181.85 L216.43,183.07 L218.35,184.31 L220.27,185.56 L222.19,186.82 L224.12,188.08 L226.04,189.36 L227.96,190.65 L229.89,191.94 L231.81,193.25 L233.73,194.56 L235.66,195.89 L237.58,197.22 L239.50,198.56 L241.42,199.90 L243.35,201.26 L245.27,202.62 L247.19,204.00 L249.12,205.37 L251.04,206.76 L252.96,208.15 L254.88,209.56 L256.81,210.96 L258.73,212.38 L260.65,213.80 L262.58,215.22 L264.50,216.66 L266.42,218.10 L268.34,219.54 L270.27,220.99 L272.19,222.45 L274.11,223.91 L276.04,225.38 L277.96,226.85 L279.88,228.32 L281.80,229.80 L283.73,231.29 L285.65,232.78 L287.57,234.27 L289.50,235.77 L291.42,237.27 L293.34,238.77 L295.26,240.28 L297.19,241.79 L299.11,243.31 L301.03,244.82 L302.96,246.34 L304.88,247.86 L306.80,249.39 L308.72,250.92 L310.65,252.44 L312.57,253.97 L314.49,255.51 L316.42,257.04 L318.34,258.57 L320.26,260.11 L322.18,261.65 L324.11,263.18 L326.03,264.72 L327.95,266.26 L329.88,267.80 L331.80,269.34 L333.72,270.88 L335.64,272.41 L337.57,273.95 L339.49,275.49 L341.41,277.03 L343.34,278.56 L345.26,280.10 L347.18,281.63 L349.10,283.16 L351.03,284.69 L352.95,286.22 L354.87,287.74 L356.80,289.27 L358.72,290.80 L360.64,292.33 L362.56,293.85 L364.49,295.38 L366.41,296.91 L368.33,298.45 L370.26,299.99 L372.18,301.53 L374.10,303.07 L376.02,304.62 L377.95,306.17 L379.87,307.73 L381.79,309.29 L383.72,310.86 L385.64,312.44 L387.56,314.03 L389.48,315.62 L391.41,317.22 L393.33,318.83 L395.25,320.45 L397.18,322.08 L399.10,323.72 L401.02,325.37 L402.94,327.03 L404.87,328.70 L406.79,330.38 L408.71,332.08 L410.64,333.79 L412.56,335.51 L414.48,337.25 L416.40,339.01 L418.33,340.77 L420.25,342.56" fill="none" stroke="#149a4a" stroke-width="2.65" />
<path d="M32.70,114.91 L35.95,115.34 L39.20,115.79 L42.45,116.28 L45.69,116.79 L48.94,117.33 L52.19,117.90 L55.44,118.49 L58.69,119.12 L61.94,119.77 L65.19,120.46 L68.44,121.17 L71.68,121.91 L74.93,122.67 L78.18,123.47 L81.43,124.29 L84.68,125.14 L87.93,126.02 L91.18,126.93 L94.43,127.86 L97.67,128.82 L100.92,129.81 L104.17,130.83 L107.42,131.87 L110.67,132.94 L113.92,134.04 L117.17,135.17 L120.42,136.32 L123.66,137.50 L126.91,138.70 L130.16,139.94 L133.41,141.20 L136.66,142.48 L139.91,143.80 L143.16,145.14 L146.41,146.50 L149.65,147.90 L152.90,149.31 L156.15,150.76 L159.40,152.23 L162.65,153.73 L165.90,155.25 L169.15,156.80 L172.40,158.38 L175.64,159.98 L178.89,161.60 L182.14,163.26 L185.39,164.93 L188.64,166.64 L191.89,168.37 L195.14,170.12 L198.39,171.90 L201.63,173.71 L204.88,175.54 L208.13,177.39 L211.38,179.27 L214.63,181.17 L217.88,183.10 L221.13,185.06 L224.38,187.04 L227.62,189.04 L230.87,191.07 L234.12,193.12 L237.37,195.20 L240.62,197.30 L243.87,199.43 L247.12,201.58 L250.37,203.75 L253.61,205.95 L256.86,208.17 L260.11,210.41 L263.36,212.68 L266.61,214.98 L269.86,217.29 L273.11,219.63 L276.36,222.00 L279.60,224.38 L282.85,226.79 L286.10,229.23 L289.35,231.69 L292.60,234.17 L295.85,236.67 L299.10,239.19 L302.35,241.74 L305.59,244.32 L308.84,246.91 L312.09,249.53 L315.34,252.17 L318.59,254.83 L321.84,257.51 L325.09,260.22 L328.34,262.95 L331.58,265.70 L334.83,268.48 L338.08,271.27 L341.33,274.09 L344.58,276.93 L347.83,279.79 L351.08,282.68 L354.33,285.58 L357.57,288.51 L360.82,291.46 L364.07,294.43 L367.32,297.42 L370.57,300.43 L373.82,303.46 L377.07,306.52 L380.32,309.60 L383.56,312.69 L386.81,315.81 L390.06,318.95 L393.31,322.11 L396.56,325.29 L399.81,328.49 L403.06,331.71 L406.31,334.96 L409.55,338.22 L412.80,341.50 L416.05,344.81 L419.30,348.13" fill="none" stroke="#ec1c24" stroke-width="2.7" stroke-dasharray="2.7 2.94"/>
<path d="M32.7,44.95 V351.8 H433.2" fill="none" stroke="#231f20" stroke-width="1.4"/>
<path d="M32.7,44.95 H434.5" fill="none" stroke="#1e1e1e" stroke-width="1.6"/>
<path d="M434.5,44.25 V352.5" fill="none" stroke="#5f5d5f" stroke-width="2.7"/>
<path d="M32.7,336.55 h3.5 M32.7,321.20 h6.5 M32.7,305.85 h3.5 M32.7,290.50 h6.5 M32.7,275.15 h3.5 M32.7,259.80 h6.5 M32.7,244.45 h3.5 M32.7,229.10 h6.5 M32.7,213.75 h3.5 M32.7,198.40 h6.5 M32.7,183.05 h3.5 M32.7,167.70 h6.5 M32.7,152.35 h3.5 M32.7,137.00 h6.5 M32.7,121.65 h3.5 M32.7,106.30 h6.5 M32.7,90.95 h3.5 M32.7,75.60 h6.5 M32.7,60.25 h3.5 M46.20,351.8 v-3.5 M72.92,351.8 v-6.5 M99.64,351.8 v-3.5 M126.36,351.8 v-6.5 M153.08,351.8 v-3.5 M179.80,351.8 v-6.5 M206.52,351.8 v-3.5 M233.24,351.8 v-6.5 M259.96,351.8 v-3.5 M286.68,351.8 v-6.5 M313.40,351.8 v-3.5 M340.12,351.8 v-6.5 M366.84,351.8 v-3.5 M393.56,351.8 v-6.5 M420.28,351.8 v-3.5" fill="none" stroke="#231f20" stroke-width="1.3"/>
<ellipse cx="161.5" cy="135.5" rx="10.3" ry="32.1" fill="none" stroke="#231f20" stroke-width="1.2"/>
<path d="M166.1,106.7 L176.4,101.2" fill="none" stroke="#231f20" stroke-width="1.2"/>
<ellipse cx="89.9" cy="226.5" rx="4.6" ry="10.1" fill="none" stroke="#231f20" stroke-width="1.2"/>
<path d="M92.7,217.3 L102,207" fill="none" stroke="#231f20" stroke-width="1.2"/>
<path d="M106,258.3 H145.1" stroke="#17a9e1" stroke-width="2.4"/>
<path d="M106,280.2 H145.1" stroke="#f4e52b" stroke-width="2.4"/>
<path d="M106,302.5 H145.1" stroke="#149a4a" stroke-width="2.4"/>
<path d="M106,324.9 H145.2" stroke="#ec1c24" stroke-width="2.4" stroke-dasharray="2.3 2.96"/>
<path d="M18.3,24.8 H28.2 L23.25,33.3 Z" fill="#231f20"/>
<text x="5.48" y="19.8" font-size="17.44" font-family="Liberation Sans, sans-serif" font-weight="bold" fill="#231f20" textLength="104.84" lengthAdjust="spacingAndGlyphs" stroke="#231f20" stroke-width="0.6">Permittivity</text>
<text x="16.65" y="50.08" font-size="16.95" font-family="Liberation Sans, sans-serif" fill="#231f20" textLength="11.68" lengthAdjust="spacingAndGlyphs" stroke="#fff" stroke-width="0.18">6</text>
<text x="16.26" y="80.24" font-size="16.33" font-family="Liberation Sans, sans-serif" fill="#231f20" textLength="11.62" lengthAdjust="spacingAndGlyphs" stroke="#fff" stroke-width="0.18">5</text>
<text x="16.66" y="112.5" font-size="17.44" font-family="Liberation Sans, sans-serif" fill="#231f20" textLength="11.1" lengthAdjust="spacingAndGlyphs" stroke="#fff" stroke-width="0.18">4</text>
<text x="16.52" y="143.83" font-size="16.95" font-family="Liberation Sans, sans-serif" fill="#231f20" textLength="11.38" lengthAdjust="spacingAndGlyphs" stroke="#fff" stroke-width="0.18">3</text>
<text x="16.24" y="173.4" font-size="16.33" font-family="Liberation Sans, sans-serif" fill="#231f20" textLength="11.83" lengthAdjust="spacingAndGlyphs" stroke="#fff" stroke-width="0.18">2</text>
<text x="16.71" y="204.6" font-size="17.73" font-family="Liberation Sans, sans-serif" fill="#231f20" textLength="10.17" lengthAdjust="spacingAndGlyphs" stroke="#fff" stroke-width="0.18">1</text>
<text x="16.15" y="235.43" font-size="17.37" font-family="Liberation Sans, sans-serif" fill="#231f20" textLength="12.4" lengthAdjust="spacingAndGlyphs" stroke="#fff" stroke-width="0.18">0</text>
<text x="10.28" y="264.8" font-size="17.15" font-family="Liberation Sans, sans-serif" fill="#231f20" textLength="16.6" lengthAdjust="spacingAndGlyphs" stroke="#fff" stroke-width="0.18">-1</text>
<text x="10.22" y="297.0" font-size="17.19" font-family="Liberation Sans, sans-serif" fill="#231f20" textLength="17.76" lengthAdjust="spacingAndGlyphs" stroke="#fff" stroke-width="0.18">-2</text>
<text x="10.23" y="326.83" font-size="17.19" font-family="Liberation Sans, sans-serif" fill="#231f20" textLength="17.58" lengthAdjust="spacingAndGlyphs" stroke="#fff" stroke-width="0.18">-5</text>
<text x="10.24" y="357.6" font-size="17.44" font-family="Liberation Sans, sans-serif" fill="#231f20" textLength="17.28" lengthAdjust="spacingAndGlyphs" stroke="#fff" stroke-width="0.18">-4</text>
<text x="58.09" y="369.83" font-size="17.23" font-family="Liberation Sans, sans-serif" fill="#231f20" textLength="31.13" lengthAdjust="spacingAndGlyphs" stroke="#fff" stroke-width="0.18">400</text>
<text x="112.18" y="369.83" font-size="17.23" font-family="Liberation Sans, sans-serif" fill="#231f20" textLength="30.73" lengthAdjust="spacingAndGlyphs" stroke="#fff" stroke-width="0.18">600</text>
<text x="165.68" y="369.73" font-size="17.37" font-family="Liberation Sans, sans-serif" fill="#231f20" textLength="31.24" lengthAdjust="spacingAndGlyphs" stroke="#fff" stroke-width="0.18">800</text>
<text x="214.71" y="369.73" font-size="17.37" font-family="Liberation Sans, sans-serif" fill="#231f20" textLength="40.8" lengthAdjust="spacingAndGlyphs" stroke="#fff" stroke-width="0.18">1000</text>
<text x="269.62" y="369.73" font-size="17.37" font-family="Liberation Sans, sans-serif" fill="#231f20" textLength="40.38" lengthAdjust="spacingAndGlyphs" stroke="#fff" stroke-width="0.18">1200</text>
<text x="322.91" y="369.73" font-size="17.37" font-family="Liberation Sans, sans-serif" fill="#231f20" textLength="40.7" lengthAdjust="spacingAndGlyphs" stroke="#fff" stroke-width="0.18">1400</text>
<text x="376.28" y="369.73" font-size="17.37" font-family="Liberation Sans, sans-serif" fill="#231f20" textLength="41.43" lengthAdjust="spacingAndGlyphs" stroke="#fff" stroke-width="0.18">1600</text>
<text x="156.96" y="392.2" font-size="18.46" font-family="Liberation Sans, sans-serif" font-weight="bold" fill="#231f20" textLength="152.46" lengthAdjust="spacingAndGlyphs" stroke="#231f20" stroke-width="0.6">Wavelength (nm)</text>
<text x="150.34" y="263.8" font-size="18.75" font-family="Liberation Sans, sans-serif" fill="#231f20" textLength="21.84" lengthAdjust="spacingAndGlyphs" stroke="#fff" stroke-width="0.18">RT</text>
<text x="150.81" y="286.41" font-size="18.93" font-family="Liberation Sans, sans-serif" fill="#231f20" textLength="49.88" lengthAdjust="spacingAndGlyphs" stroke="#fff" stroke-width="0.18">200°C</text>
<text x="151.31" y="308.71" font-size="18.93" font-family="Liberation Sans, sans-serif" fill="#231f20" textLength="49.37" lengthAdjust="spacingAndGlyphs" stroke="#fff" stroke-width="0.18">400°C</text>
<text x="150.22" y="330.4" font-size="19.48" font-family="Liberation Sans, sans-serif" fill="#231f20" textLength="103.39" lengthAdjust="spacingAndGlyphs" stroke="#fff" stroke-width="0.18">Drude model</text>
<text x="177.49" y="96.2" font-size="19.04" font-family="Liberation Sans, sans-serif" fill="#231f20" textLength="20.42" lengthAdjust="spacingAndGlyphs" stroke="#fff" stroke-width="0.18">Re</text>
<text x="96.46" y="203.2" font-size="18.46" font-family="Liberation Sans, sans-serif" fill="#231f20" textLength="20.96" lengthAdjust="spacingAndGlyphs" stroke="#fff" stroke-width="0.18">Im</text>
<text x="236.49" y="128.0" font-size="16.57" font-family="Liberation Sans, sans-serif" fill="#231f20" textLength="51.96" lengthAdjust="spacingAndGlyphs" stroke="#fff" stroke-width="0.18">N ~ 3.4</text>
<text x="291.16" y="128.77" font-size="15.77" font-family="Liberation Sans, sans-serif" fill="#231f20" textLength="9.47" lengthAdjust="spacingAndGlyphs" stroke="#fff" stroke-width="0.18">×</text>
<text x="302.36" y="127.8" font-size="16.28" font-family="Liberation Sans, sans-serif" fill="#231f20" textLength="16.72" lengthAdjust="spacingAndGlyphs" stroke="#fff" stroke-width="0.18">10</text>
<text x="318.71" y="123.4" font-size="9.75" font-family="Liberation Sans, sans-serif" fill="#231f20" textLength="10.97" lengthAdjust="spacingAndGlyphs">20</text>
<text x="333.13" y="127.67" font-size="13.32" font-family="Liberation Sans, sans-serif" fill="#231f20" textLength="21.2" lengthAdjust="spacingAndGlyphs" stroke="#fff" stroke-width="0.18">cm</text>
<text x="353.96" y="123.61" font-size="9.46" font-family="Liberation Sans, sans-serif" fill="#231f20" textLength="8.98" lengthAdjust="spacingAndGlyphs">-3</text>
<text x="261.29" y="181.8" font-size="15.99" font-family="Liberation Sans, sans-serif" fill="#231f20" textLength="36.16" lengthAdjust="spacingAndGlyphs" stroke="#fff" stroke-width="0.18">~ 6.4</text>
<text x="299.43" y="182.97" font-size="15.77" font-family="Liberation Sans, sans-serif" fill="#231f20" textLength="9.73" lengthAdjust="spacingAndGlyphs" stroke="#fff" stroke-width="0.18">×</text>
<text x="311.04" y="181.8" font-size="15.99" font-family="Liberation Sans, sans-serif" fill="#231f20" textLength="16.94" lengthAdjust="spacingAndGlyphs" stroke="#fff" stroke-width="0.18">10</text>
<text x="327.82" y="177.5" font-size="9.6" font-family="Liberation Sans, sans-serif" fill="#231f20" textLength="10.65" lengthAdjust="spacingAndGlyphs">20</text>
<text x="341.94" y="181.67" font-size="13.14" font-family="Liberation Sans, sans-serif" fill="#231f20" textLength="21.09" lengthAdjust="spacingAndGlyphs" stroke="#fff" stroke-width="0.18">cm</text>
<text x="362.76" y="177.61" font-size="9.46" font-family="Liberation Sans, sans-serif" fill="#231f20" textLength="8.87" lengthAdjust="spacingAndGlyphs">-3</text>
<text x="270.68" y="303.8" font-size="15.99" font-family="Liberation Sans, sans-serif" fill="#231f20" textLength="52.22" lengthAdjust="spacingAndGlyphs" stroke="#fff" stroke-width="0.18">N ~ 8.6</text>
<text x="324.8" y="304.97" font-size="15.77" font-family="Liberation Sans, sans-serif" fill="#231f20" textLength="10.0" lengthAdjust="spacingAndGlyphs" stroke="#fff" stroke-width="0.18">×</text>
<text x="336.56" y="303.8" font-size="15.99" font-family="Liberation Sans, sans-serif" fill="#231f20" textLength="16.72" lengthAdjust="spacingAndGlyphs" stroke="#fff" stroke-width="0.18">10</text>
<text x="353.31" y="299.7" font-size="9.6" font-family="Liberation Sans, sans-serif" fill="#231f20" textLength="10.86" lengthAdjust="spacingAndGlyphs">20</text>
<text x="367.95" y="303.67" font-size="13.14" font-family="Liberation Sans, sans-serif" fill="#231f20" textLength="20.55" lengthAdjust="spacingAndGlyphs" stroke="#fff" stroke-width="0.18">cm</text>
<text x="387.82" y="300.01" font-size="9.46" font-family="Liberation Sans, sans-serif" fill="#231f20" textLength="9.65" lengthAdjust="spacingAndGlyphs">-3</text>
</svg>
</body></html>
